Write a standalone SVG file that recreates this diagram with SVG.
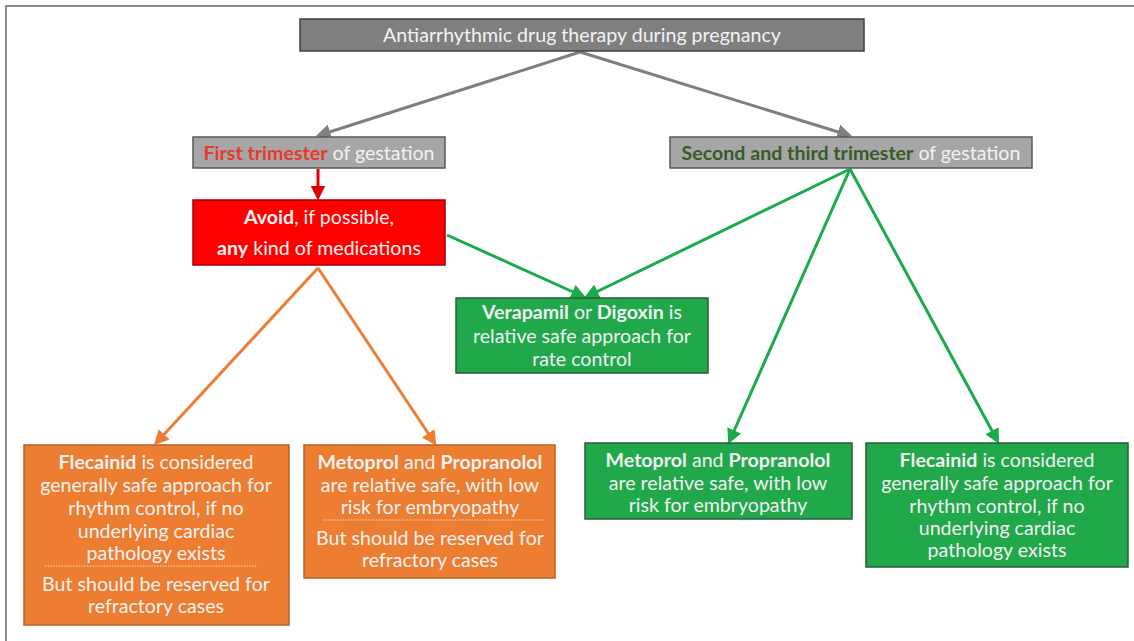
<svg xmlns="http://www.w3.org/2000/svg" width="1134" height="641" viewBox="0 0 1134 641">
<style>
text{font-family:Lato,"Open Sans","Liberation Sans",sans-serif;font-size:19.6px;fill:#f2f2f2;text-anchor:middle}
.b{font-weight:bold}
.gray{fill:#a6a6a6;stroke:#595959;stroke-width:1.5}
.dgray{fill:#7f7f7f;stroke:#404040;stroke-width:1.5}
.red{fill:#ff0000;stroke:#a00000;stroke-width:1.5}
.grn{fill:#20a84a;stroke:#2a5e3a;stroke-width:1.5}
.org{fill:#ed7d31;stroke:#b5612a;stroke-width:1.5}
.c{fill:none;stroke-width:3}
.dot{stroke:#f2f2f2;stroke-width:1.2;stroke-dasharray:1.2 1.6}
</style>
<defs>
<marker id="ag" markerWidth="5" markerHeight="5" refX="3.5" refY="2.5" orient="auto" markerUnits="strokeWidth"><path d="M0,0 L5,2.5 L0,5 Z" fill="#7f7f7f"/></marker>
<marker id="ar" markerWidth="5" markerHeight="5" refX="3.5" refY="2.5" orient="auto" markerUnits="strokeWidth"><path d="M0,0 L5,2.5 L0,5 Z" fill="#e00000"/></marker>
<marker id="an" markerWidth="5" markerHeight="5" refX="3.5" refY="2.5" orient="auto" markerUnits="strokeWidth"><path d="M0,0 L5,2.5 L0,5 Z" fill="#1aab4b"/></marker>
<marker id="ao" markerWidth="5" markerHeight="5" refX="3.5" refY="2.5" orient="auto" markerUnits="strokeWidth"><path d="M0,0 L5,2.5 L0,5 Z" fill="#ed7d31"/></marker>
</defs>
<rect x="0" y="0" width="1134" height="641" fill="#ffffff"/>
<path d="M6,645 L6,6 L1140,6" fill="none" stroke="#8c8c8c" stroke-width="2"/>

<g id="connectors">
<path class="c" d="M580,52 L320,135" stroke="#7f7f7f" marker-end="url(#ag)"/>
<path class="c" d="M580,52 L848,135" stroke="#7f7f7f" marker-end="url(#ag)"/>
<path class="c" d="M318,169 L318,196" stroke="#e00000" marker-end="url(#ar)"/>
<path class="c" d="M447,235 L582,296" stroke="#1aab4b" marker-end="url(#an)"/>
<path class="c" d="M850,169 L588,296" stroke="#1aab4b" marker-end="url(#an)"/>
<path class="c" d="M850,169 L730,440" stroke="#1aab4b" marker-end="url(#an)"/>
<path class="c" d="M850,169 L997,440" stroke="#1aab4b" marker-end="url(#an)"/>
<path class="c" d="M318,268 L157,442" stroke="#ed7d31" marker-end="url(#ao)"/>
<path class="c" d="M318,268 L434,442" stroke="#ed7d31" marker-end="url(#ao)"/>
</g>

<g id="root">
<rect class="dgray" x="300" y="19" width="564" height="32"/>
<text x="582" y="42">Antiarrhythmic drug therapy during pregnancy</text>
</g>

<g id="first">
<rect class="gray" x="193" y="137" width="252" height="31"/>
<text x="319" y="160"><tspan class="b" style="fill:#e8392b">First trimester</tspan> of gestation</text>
</g>

<g id="second">
<rect class="gray" x="670" y="137" width="362" height="31"/>
<text x="851" y="160"><tspan class="b" style="fill:#3a5a2a">Second and third trimester</tspan> of gestation</text>
</g>

<g id="avoid">
<rect class="red" x="193" y="200" width="252" height="65"/>
<text x="319" y="224"><tspan class="b">Avoid</tspan>, if possible,</text>
<text x="319" y="255"><tspan class="b">any</tspan> kind of medications</text>
</g>

<g id="rate">
<rect class="grn" x="456" y="298" width="252" height="75"/>
<text x="582" y="319"><tspan class="b">Verapamil</tspan> or <tspan class="b">Digoxin</tspan> is</text>
<text x="582" y="343">relative safe approach for</text>
<text x="582" y="366">rate control</text>
</g>

<g id="flec1">
<rect class="org" x="24" y="445" width="265" height="180"/>
<text x="156" y="469"><tspan class="b">Flecainid</tspan> is considered</text>
<text x="156" y="492">generally safe approach for</text>
<text x="156" y="515">rhythm control, if no</text>
<text x="156" y="538">underlying cardiac</text>
<text x="156" y="560">pathology exists</text>
<line class="dot" x1="45" y1="566" x2="258" y2="566"/>
<text x="156" y="591">But should be reserved for</text>
<text x="156" y="613">refractory cases</text>
</g>

<g id="meto1">
<rect class="org" x="304" y="445" width="251" height="133"/>
<text x="430" y="469"><tspan class="b">Metoprol</tspan> and <tspan class="b">Propranolol</tspan></text>
<text x="430" y="492">are relative safe, with low</text>
<text x="430" y="514">risk for embryopathy</text>
<line class="dot" x1="323" y1="520" x2="543" y2="520"/>
<text x="430" y="545">But should be reserved for</text>
<text x="430" y="567">refractory cases</text>
</g>

<g id="meto2">
<rect class="grn" x="585" y="443" width="267" height="76"/>
<text x="718" y="467"><tspan class="b">Metoprol</tspan> and <tspan class="b">Propranolol</tspan></text>
<text x="718" y="490">are relative safe, with low</text>
<text x="718" y="512">risk for embryopathy</text>
</g>

<g id="flec2">
<rect class="grn" x="866" y="443" width="262" height="124"/>
<text x="997" y="467"><tspan class="b">Flecainid</tspan> is considered</text>
<text x="997" y="490">generally safe approach for</text>
<text x="997" y="513">rhythm control, if no</text>
<text x="997" y="535">underlying cardiac</text>
<text x="997" y="557">pathology exists</text>
</g>
</svg>
